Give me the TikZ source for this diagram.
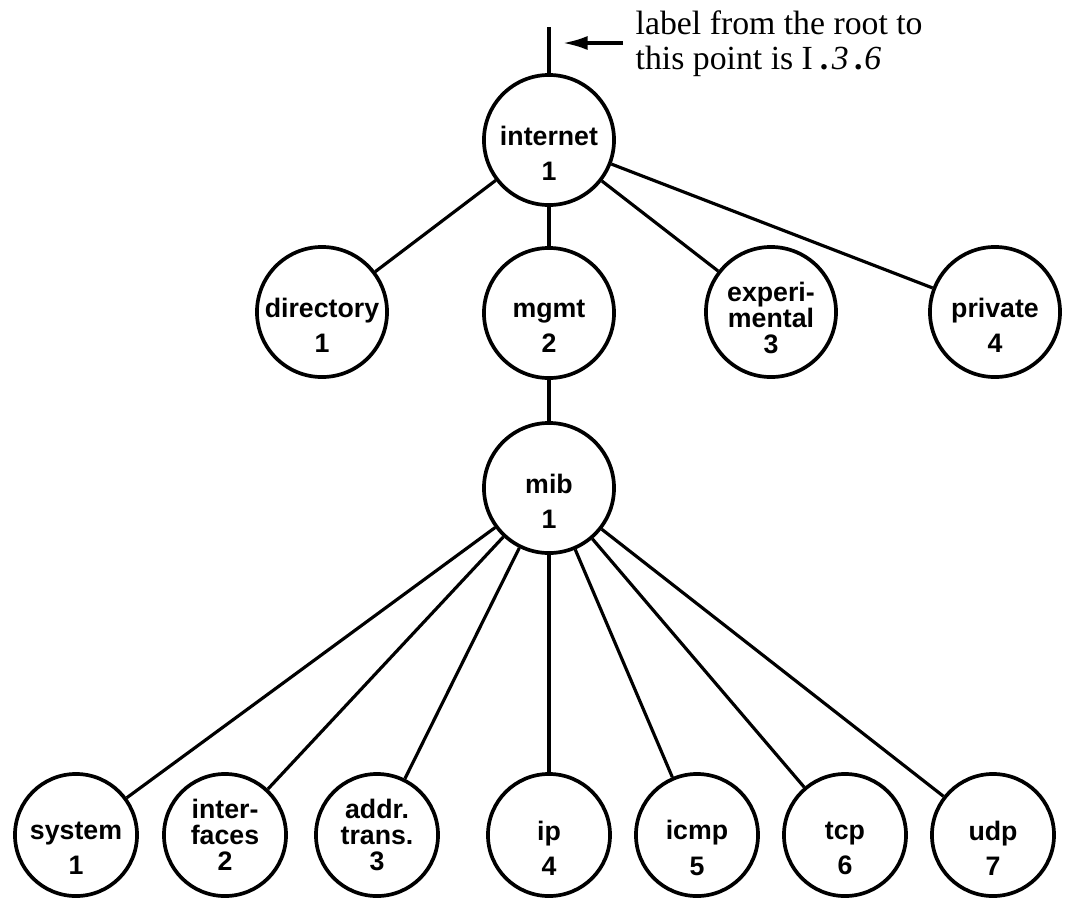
\documentclass[tikz,border=0pt]{standalone}
\usepackage{fontspec}
\usepackage{tikz}
\usetikzlibrary{arrows.meta}
\newfontfamily\helv{Liberation Sans}
\newfontfamily\tms{Liberation Serif}

\tikzset{
  obj/.style={circle,draw,line width=1.05pt,minimum size=1.3cm,inner sep=0pt},
  leaf/.style={obj,minimum size=1.22cm},
  txt/.style={align=center,yshift=-3.7pt,font=\helv\bfseries\fontsize{7.6}{10}\selectfont},
  txtt/.style={align=center,font=\helv\bfseries\fontsize{7.6}{7.4}\selectfont},
  link/.style={line width=0.9pt},
  note/.style={align=left,inner sep=0pt,font=\tms\fontsize{9.6}{10}\selectfont}
}

\begin{document}
\begin{tikzpicture}[x=0.01cm,y=-0.01cm]
   \useasboundingbox (0,0) rectangle (1075,899);

   \node[obj,label={[txt]center:{internet\\1}}] (internet) at (549,140) {};

   \node[obj,label={[txt]center:{directory\\1}}] (directory) at (322,312) {};
   \node[obj,label={[txt]center:{mgmt\\2}}] (mgmt) at (549,313) {};
   \node[obj,label={[txtt,yshift=-1.7pt]center:{experi-\\mental\\3}}] (experimental) at (771,312) {};
   \node[obj,label={[txt]center:{private\\4}}] (private) at (995,312) {};

   \node[obj,label={[txt]center:{mib\\1}}] (mib) at (549,488) {};

   \node[leaf,label={[txt]center:{system\\1}}] (system) at (76,835) {};
   \node[leaf,label={[txtt]center:{inter-\\faces\\2}}] (interfaces) at (225,835) {};
   \node[leaf,label={[txtt]center:{addr.\\trans.\\3}}] (addrtrans) at (377,835) {};
   \node[leaf,label={[txt]center:{ip\\4}}] (ip) at (549,835) {};
   \node[leaf,label={[txt]center:{icmp\\5}}] (icmp) at (697,835) {};
   \node[leaf,label={[txt]center:{tcp\\6}}] (tcp) at (845,835) {};
   \node[leaf,label={[txt]center:{udp\\7}}] (udp) at (993,835) {};

   \foreach \c in {directory,mgmt,experimental,private}
     \draw[link] (internet) -- (\c);
   \draw[link] (mgmt) -- (mib);
   \foreach \c in {system,interfaces,addrtrans,ip,icmp,tcp,udp}
     \draw[link] (mib) -- (\c);

   \coordinate (stemtop) at (549,27);
   \draw[link] (stemtop) -- (internet);

   \node[note,anchor=north west] (label) at (635,10)
     {label from the root to\\this point is I\hspace{2pt}\textbf{.}\hspace{1pt}\textit{3}\hspace{1.5pt}\textbf{.}\hspace{0.5pt}\textit{6}};
   \coordinate (tip) at (563,43);
   \draw[link,-{Latex[length=7pt,width=4pt]}] ([xshift=-3.4pt]label.west |- tip) -- (tip);
\end{tikzpicture}
\end{document}
